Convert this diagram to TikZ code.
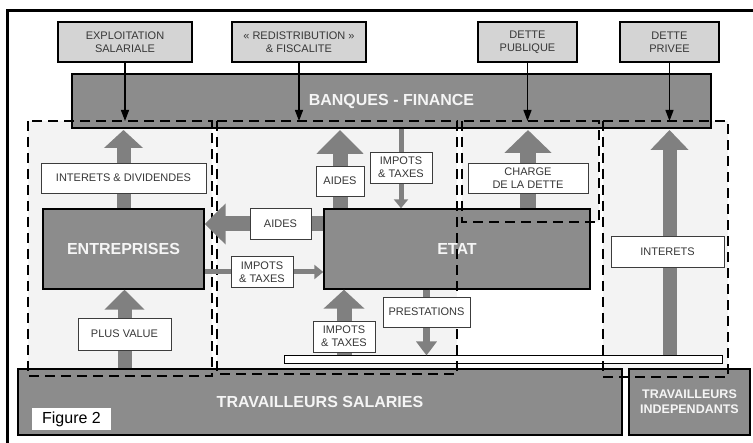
\documentclass[tikz,border=0pt]{standalone}
\usepackage{fontspec}
\setmainfont{Liberation Sans}
\usetikzlibrary{arrows.meta}
\definecolor{darkfill}{RGB}{140,140,140}
\definecolor{arrowgray}{RGB}{128,128,128}
\definecolor{lightfill}{RGB}{212,212,212}
\definecolor{regionfill}{RGB}{243,243,243}
\definecolor{labeltext}{RGB}{55,55,55}
\definecolor{labelborder}{RGB}{60,60,60}
\definecolor{whitetext}{RGB}{245,245,245}
\pgfdeclarelayer{bg}
\pgfdeclarelayer{dark}
\pgfdeclarelayer{dash}
\pgfdeclarelayer{arr}
\pgfsetlayers{bg,dark,dash,arr,main}
\begin{document}
\begin{tikzpicture}[x=1pt,y=-1pt,
  wh/.style 2 args={minimum width=#1pt, minimum height=#2pt},
  darkbox/.style={draw=black, line width=1.4pt, fill=darkfill, text=whitetext,
    font=\fontsize{16}{18}\selectfont\bfseries, inner sep=0pt, align=center},
  topbox/.style={draw=black, line width=1.3pt, fill=lightfill, text=labeltext,
    font=\fontsize{11}{13}\selectfont, inner sep=0pt, align=center},
  lab/.style={draw=labelborder, line width=0.9pt, fill=white, text=labeltext,
    font=\fontsize{11}{13}\selectfont, inner sep=0pt, align=center},
  region/.style={draw=black, line width=1.6pt, dash pattern=on 10pt off 6pt},
  fat/.style n args={3}{draw=arrowgray, line width=#1pt, -{Triangle[width=#2pt,length=#3pt]}},
  thinarr/.style={draw=arrowgray, line width=5pt, -{Triangle[width=14pt,length=9pt]}},
  blackarr/.style={draw=black, line width=1.3pt, -{Triangle[width=8pt,length=11pt]}}
]
\useasboundingbox (0,0) rectangle (753,443);
% frame
\draw[line width=3pt] (7,443) -- (7,11) -- (753,11);

% region fills
\begin{pgfonlayer}{bg}
  \fill[regionfill] (28,121) rectangle (212,376);
  \fill[regionfill] (217,121) rectangle (457,374);
  \fill[regionfill] (462,121) rectangle (599,222);
  \fill[regionfill] (603,121) rectangle (728,377);
\end{pgfonlayer}

% main boxes
\begin{pgfonlayer}{dark}
  \node[topbox, wh={134}{40}] (expl) at (125,42) {EXPLOITATION\\SALARIALE};
  \node[topbox, wh={134}{40}] (redis) at (299,42) {« REDISTRIBUTION »\\\& FISCALITE};
  \node[topbox, wh={99}{40}] (dpub) at (527.5,42) {DETTE\\PUBLIQUE};
  \node[topbox, wh={99}{40}] (dpriv) at (669.5,42) {DETTE\\PRIVEE};
  \node[darkbox, wh={639}{54}] (banq) at (391.5,101) {BANQUES - FINANCE};
  \node[darkbox, wh={161}{80}] (ent) at (123.5,249) {ENTREPRISES};
  \node[darkbox, wh={266}{80}] (etat) at (457,249) {ETAT};
  \node[darkbox, wh={604}{66}] (trav) at (320,402) {TRAVAILLEURS SALARIES};
  \node[darkbox, wh={121}{66}, font=\fontsize{12.5}{15}\selectfont\bfseries] (indep) at (689.5,402) {TRAVAILLEURS\\INDEPENDANTS};
  \node[fill=white, wh={79}{22}, inner sep=0pt, font=\fontsize{16}{18}\selectfont] (fig) at (71.5,419) {Figure 2};
  \node[draw=black, line width=1pt, fill=white, wh={438}{8}, inner sep=0pt] (plat) at (503,360) {};
\end{pgfonlayer}

% dashed regions
\begin{pgfonlayer}{dash}
  \draw[region] (28,121) rectangle (212,376);
  \draw[region] (217,121) rectangle (457,374);
  \draw[region] (462,121) rectangle (599,222);
  \draw[region] (603,121) rectangle (728,377);
\end{pgfonlayer}

% labels
\node[lab, wh={165}{30}] (lid) at (123.5,178) {INTERETS \& DIVIDENDES};
\node[lab, wh={93}{32}] (lpv) at (124.5,334) {PLUS VALUE};
\node[lab, wh={48}{30}] (laides1) at (340,181) {AIDES};
\node[lab, wh={62}{31}] (limp1) at (401,167.5) {IMPOTS\\\& TAXES};
\node[lab, wh={61}{31}] (laides2) at (280.5,224) {AIDES};
\node[lab, wh={62}{31}] (limp2) at (262,272) {IMPOTS\\\& TAXES};
\node[lab, wh={62}{31}] (limp3) at (344,336.5) {IMPOTS\\\& TAXES};
\node[lab, wh={87}{30}] (lprest) at (426.5,312) {PRESTATIONS};
\node[lab, wh={120}{30}] (lcharge) at (528,178) {CHARGE\\DE LA DETTE};
\node[lab, wh={113}{31}] (lint) at (667.5,251.5) {INTERETS};

\coordinate (tipline) at (0,130);
\coordinate (dashtop) at (0,121);

% arrows
\begin{pgfonlayer}{arr}
  \draw[blackarr] (expl.south) -- (expl.south |- dashtop);
  \draw[blackarr] (redis.south) -- (redis.south |- dashtop);
  \draw[blackarr] (dpub.south) -- (dpub.south |- dashtop);
  \draw[blackarr] (dpriv.south) -- (dpriv.south |- dashtop);

  \draw[fat={14}{38}{18}] (ent.north) -- (ent.north |- tipline);
  \draw[fat={14}{39}{20}] (trav.north -| lpv) -- (ent.south -| lpv);
  \draw[fat={15}{46}{24}] (etat.north -| laides1) -- (laides1 |- tipline);
  \draw[thinarr] (banq.south -| limp1) -- (etat.north -| limp1);
  \draw[fat={15}{40}{21}] (etat.west |- laides2) -- (ent.east |- laides2);
  \draw[thinarr] (ent.east |- limp2) -- (etat.west |- limp2);
  \draw[fat={15}{40}{19}] (plat.north -| limp3) -- (etat.south -| limp3);
  \draw[fat={7}{20}{14}] (etat.south -| lprest) -- (plat.north -| lprest);
  \draw[fat={16}{46}{23}] (etat.north -| lcharge) -- (lcharge |- tipline);
  \draw[fat={14}{37}{20}] (plat.north -| dpriv) -- (dpriv |- tipline);
\end{pgfonlayer}
\end{tikzpicture}
\end{document}
